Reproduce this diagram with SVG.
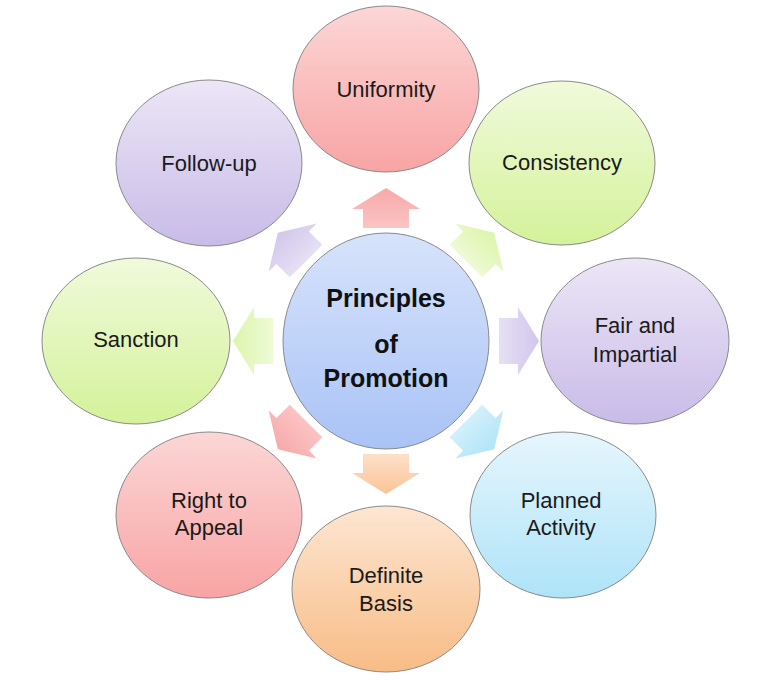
<svg xmlns="http://www.w3.org/2000/svg" width="779" height="684" viewBox="0 0 779 684">
<defs>
<linearGradient id="gPink" x1="0" y1="0" x2="0" y2="1"><stop offset="0" stop-color="#fcd6d6"/><stop offset="1" stop-color="#f8a4a4"/></linearGradient>
<linearGradient id="gGreen" x1="0" y1="0" x2="0" y2="1"><stop offset="0" stop-color="#f0fadb"/><stop offset="1" stop-color="#d4f29a"/></linearGradient>
<linearGradient id="gPurple" x1="0" y1="0" x2="0" y2="1"><stop offset="0" stop-color="#ece6f6"/><stop offset="1" stop-color="#c9bbe8"/></linearGradient>
<linearGradient id="gCyan" x1="0" y1="0" x2="0" y2="1"><stop offset="0" stop-color="#e6f6fd"/><stop offset="1" stop-color="#aee3f8"/></linearGradient>
<linearGradient id="gPeach" x1="0" y1="0" x2="0" y2="1"><stop offset="0" stop-color="#fde6d2"/><stop offset="1" stop-color="#f8bc86"/></linearGradient>
<linearGradient id="gBlue" x1="0" y1="0" x2="0" y2="1"><stop offset="0" stop-color="#d7e3fb"/><stop offset="1" stop-color="#a9c3f6"/></linearGradient>
<linearGradient id="aPink" x1="0" y1="0" x2="1" y2="0"><stop offset="0" stop-color="#fbc4c4"/><stop offset="1" stop-color="#f7a9a9"/></linearGradient>
<linearGradient id="aGreen" x1="0" y1="0" x2="1" y2="0"><stop offset="0" stop-color="#eefad6"/><stop offset="1" stop-color="#dcf5ab"/></linearGradient>
<linearGradient id="aPurple" x1="0" y1="0" x2="1" y2="0"><stop offset="0" stop-color="#e6e0f4"/><stop offset="1" stop-color="#d2c6ec"/></linearGradient>
<linearGradient id="aCyan" x1="0" y1="0" x2="1" y2="0"><stop offset="0" stop-color="#d2f0fb"/><stop offset="1" stop-color="#b0e4f8"/></linearGradient>
<linearGradient id="aPeach" x1="0" y1="0" x2="1" y2="0"><stop offset="0" stop-color="#fde0c8"/><stop offset="1" stop-color="#fac496"/></linearGradient>
<path id="arr" d="M113,-23 L132,-23 L132,-34 L153,0 L132,34 L132,23 L113,23 Z"/>
</defs>
<style>
.node ellipse{stroke:#8a8a8a;stroke-width:1}
.lbl{font-family:"Liberation Sans",Arial,sans-serif;font-size:22px;fill:#1a1a1a;text-anchor:middle}
.ctr{font-family:"Liberation Sans",Arial,sans-serif;font-size:25px;font-weight:bold;fill:#111;text-anchor:middle}
</style>
<rect width="779" height="684" fill="#ffffff"/>
<g id="connectors">
<use href="#arr" fill="url(#aPink)" transform="translate(386,341) rotate(-90)"/>
<use href="#arr" fill="url(#aGreen)" transform="translate(386,341) rotate(-45)"/>
<use href="#arr" fill="url(#aPurple)" transform="translate(386,341)"/>
<use href="#arr" fill="url(#aCyan)" transform="translate(386,341) rotate(45)"/>
<use href="#arr" fill="url(#aPeach)" transform="translate(386,341) rotate(90)"/>
<use href="#arr" fill="url(#aPink)" transform="translate(386,341) rotate(135)"/>
<use href="#arr" fill="url(#aGreen)" transform="translate(386,341) rotate(180)"/>
<use href="#arr" fill="url(#aPurple)" transform="translate(386,341) rotate(225)"/>
</g>
<g id="center" class="node"><ellipse cx="386" cy="341" rx="103" ry="108" fill="url(#gBlue)"/>
<text class="ctr" x="386" y="307">Principles</text><text class="ctr" x="386" y="353">of</text><text class="ctr" x="386" y="387">Promotion</text></g>
<g id="uniformity" class="node"><ellipse cx="386" cy="89" rx="93" ry="83" fill="url(#gPink)"/><text class="lbl" x="386" y="97">Uniformity</text></g>
<g id="consistency" class="node"><ellipse cx="562" cy="163" rx="93" ry="82" fill="url(#gGreen)"/><text class="lbl" x="562" y="170">Consistency</text></g>
<g id="fair" class="node"><ellipse cx="635" cy="341" rx="94" ry="83" fill="url(#gPurple)"/><text class="lbl" x="635" y="333">Fair and</text><text class="lbl" x="635" y="362">Impartial</text></g>
<g id="planned" class="node"><ellipse cx="563" cy="515" rx="93" ry="83" fill="url(#gCyan)"/><text class="lbl" x="561" y="508">Planned</text><text class="lbl" x="561" y="535">Activity</text></g>
<g id="definite" class="node"><ellipse cx="386" cy="589" rx="94" ry="83" fill="url(#gPeach)"/><text class="lbl" x="386" y="583">Definite</text><text class="lbl" x="386" y="611">Basis</text></g>
<g id="appeal" class="node"><ellipse cx="209" cy="515" rx="93" ry="83" fill="url(#gPink)"/><text class="lbl" x="209" y="508">Right to</text><text class="lbl" x="209" y="535">Appeal</text></g>
<g id="sanction" class="node"><ellipse cx="136" cy="341" rx="94" ry="83" fill="url(#gGreen)"/><text class="lbl" x="136" y="347">Sanction</text></g>
<g id="followup" class="node"><ellipse cx="209" cy="163" rx="93" ry="83" fill="url(#gPurple)"/><text class="lbl" x="209" y="171">Follow-up</text></g>
</svg>
